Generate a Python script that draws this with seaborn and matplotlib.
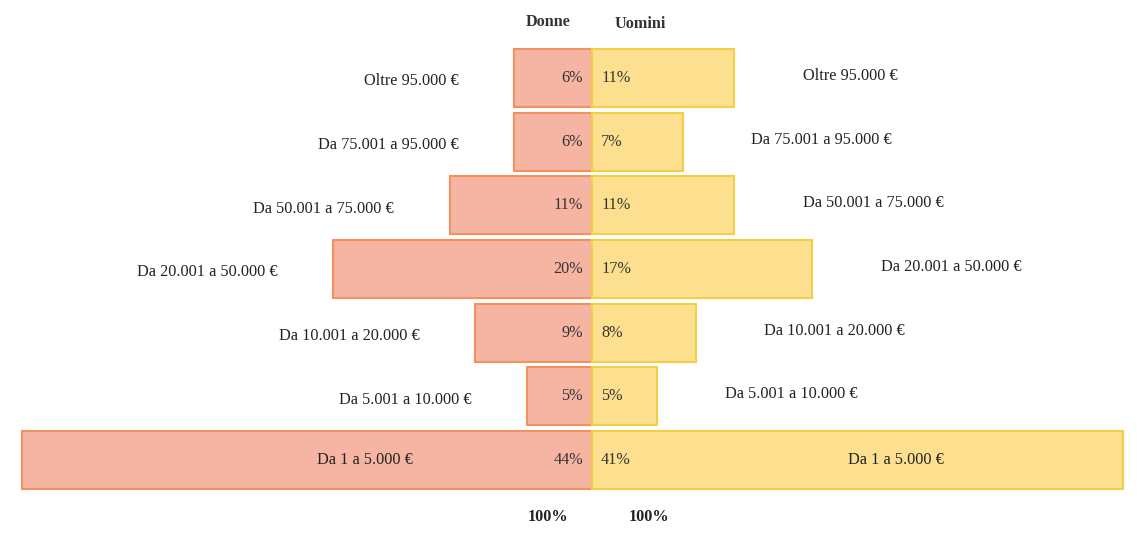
import matplotlib
matplotlib.use("Agg")
import matplotlib.pyplot as plt
import seaborn as sns
import numpy as np
import pandas as pd

categories = ["Oltre 95.000 €", "Da 75.001 a 95.000 €", "Da 50.001 a 75.000 €",
              "Da 20.001 a 50.000 €", "Da 10.001 a 20.000 €", "Da 5.001 a 10.000 €",
              "Da 1 a 5.000 €"]
donne = [6, 6, 11, 20, 9, 5, 44]
uomini = [11, 7, 11, 17, 8, 5, 41]
header_left = "Donne"
header_right = "Uomini"
total_left = "100%"
total_right = "100%"

sns.set_style("white")
plt.rcParams["font.family"] = ["Liberation Serif", "DejaVu Serif"]

W, H = 1140, 536
fig = plt.figure(figsize=(W / 100, H / 100), dpi=100)
ax = fig.add_axes([0, 0, 1, 1])

df_l = pd.DataFrame({"cat": categories, "val": [-v for v in donne]})
df_r = pd.DataFrame({"cat": categories, "val": uomini})

sns.barplot(data=df_l, x="val", y="cat", orient="h", ax=ax, width=0.91,
            color="#F6B5A2", edgecolor="#F2935F", linewidth=1.5, saturation=1)
sns.barplot(data=df_r, x="val", y="cat", orient="h", ax=ax, width=0.91,
            color="#FCE08F", edgecolor="#F3CF45", linewidth=1.5, saturation=1)

pxu = 12.95  # pixels per percent
cx = 592
ax.set_xlim(-cx / pxu, (W - cx) / pxu)
pitch = 63.7
ax.set_ylim(6 + (H - 460) / pitch, -78 / pitch)
ax.axis("off")

fs = 11.7
n = len(categories)
for i, (cat, d, u) in enumerate(zip(categories, donne, uomini)):
    ax.text(-0.7, i, f"{d}%", ha="right", va="center", fontsize=fs, color="#333333")
    ax.text(0.7, i, f"{u}%", ha="left", va="center", fontsize=fs, color="#333333")
    if i == n - 1:
        ax.text(-d / 2 + 4.5, i, cat, ha="center", va="center", fontsize=fs, color="#222222")
        ax.text(u / 2 + 3.0, i, cat, ha="center", va="center", fontsize=fs, color="#222222")
    else:
        ax.text(-d - 4.3, i + 0.05, cat, ha="right", va="center", fontsize=fs, color="#222222")
        ax.text(u + 5.3, i - 0.03, cat, ha="left", va="center", fontsize=fs, color="#222222")

ax.text(-3.4, -0.88, header_left, ha="center", va="center", fontsize=fs, fontweight="bold", color="#333333")
ax.text(3.7, -0.84, header_right, ha="center", va="center", fontsize=fs, fontweight="bold", color="#333333")
ax.text(-3.4, 6.9, total_left, ha="center", va="center", fontsize=fs, fontweight="bold", color="#222222")
ax.text(4.4, 6.9, total_right, ha="center", va="center", fontsize=fs, fontweight="bold", color="#222222")

fig.savefig("out.png", dpi=100)
